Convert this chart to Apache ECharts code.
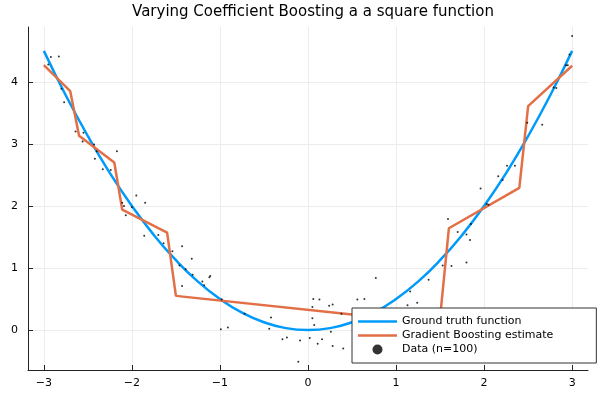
<!DOCTYPE html>
<html>
<head>
<meta charset="utf-8">
<script src="https://cdn.jsdelivr.net/npm/echarts@6/dist/echarts.min.js"></script>
<style>
  html, body { margin: 0; padding: 0; background: #fff; }
  #chart { width: 600px; height: 400px; }
</style>
</head>
<body>
<div id="chart"></div>
<script>
// axis ticks
const xTicks = [-3, -2, -1, 0, 1, 2, 3];
const yTicks = [0, 1, 2, 3, 4];

// ground truth curve
const truthX = [-3, -2.75, -2.5, -2.25, -2, -1.75, -1.5, -1.25, -1, -0.75, -0.5, -0.25, 0,
                0.25, 0.5, 0.75, 1, 1.25, 1.5, 1.75, 2, 2.25, 2.5, 2.75, 3];
const truthY = [4.5, 3.78, 3.125, 2.53, 2, 1.53, 1.125, 0.78, 0.5, 0.28, 0.125, 0.03, 0,
                0.03, 0.125, 0.28, 0.5, 0.78, 1.125, 1.53, 2, 2.53, 3.125, 3.78, 4.5];

// gradient boosting estimate (piecewise linear)
const gbX = [-3, -2.7, -2.6, -2.2, -2.11, -1.6, -1.5, 0.5, 1.5, 1.6, 2.4, 2.5, 3];
const gbY = [4.27, 3.85, 3.13, 2.7, 1.94, 1.57, 0.55, 0.25, 0.2, 1.64, 2.29, 3.61, 4.26];

// noisy samples
const dataX = [-2.92, -2.83, -2.95, -2.80, -2.77, -2.64, -2.55, -2.56, -2.43, -2.40,
               -2.17, -2.42, -2.33, -2.24, -1.95, -1.85, -2.11, -2.09, -2.07, -1.86,
               -1.70, -1.64, -1.43, -1.54, -1.32, -1.46, -1.39, -1.31, -1.20, -1.18,
               -1.12, -1.11, -1.43, -0.98, -0.42, -0.91, -0.99, -0.44, 0.06, 0.13,
               0.05, 0.24, 0.28, 0.56, 0.64, 0.38, 0.05, 0.07, 0.26, -0.29,
               -0.24, -0.09, 0.02, 0.11, 0.16, 0.28, 0.40, -0.11, 1.70, 1.80,
               1.84, 1.85, 1.53, 1.63, 1.80, 0.77, 1.37, 1.16, 1.24, 1.13,
               2.49, 2.66, 2.26, 2.35, 2.16, 1.96, 2.05, 2.03, 1.59, 3.00,
               2.97, 2.93, 2.95, 2.79, 2.82, 0.52, 0.58, 0.63, 0.70, 0.74,
               0.81, 0.88, 0.93, 0.99, 1.05, 0.67, 0.85, -2.00, 2.21, -0.72];
const dataY = [4.40, 4.41, 4.28, 3.89, 3.67, 3.20, 3.18, 3.04, 2.99, 2.88,
               2.88, 2.76, 2.59, 2.58, 2.17, 2.05, 2.05, 2.00, 1.85, 1.52,
               1.53, 1.40, 1.35, 1.27, 1.15, 1.04, 0.98, 0.89, 0.78, 0.72,
               0.85, 0.87, 0.71, 0.49, 0.20, 0.04, 0.01, 0.02, 0.50, 0.49,
               0.37, 0.39, 0.41, 0.49, 0.50, 0.26, 0.19, 0.08, -0.03, -0.15,
               -0.12, -0.17, -0.13, -0.22, -0.15, -0.26, -0.30, -0.51, 1.58, 1.54,
               1.45, 1.71, 1.04, 1.03, 1.09, 0.84, 0.81, 0.62, 0.44, 0.40,
               3.34, 3.31, 2.65, 2.65, 2.48, 2.28, 2.02, 2.03, 1.79, 4.74,
               4.44, 4.27, 4.27, 3.91, 3.90, 0.05, 0.30, -0.12, 0.18, 0.33,
               0.02, 0.28, 0.12, 0.31, 0.25, 0.22, -0.05, 1.98, 2.42, 0.26];

const zip = (xs, ys) => xs.map((x, i) => [x, ys[i]]);

const chart = echarts.init(document.getElementById('chart'));
const font = 'DejaVu Sans';
const axisColor = '#222';
const lineIcon = 'path://M0,0H40V2.5H0Z';

const option = {
    animation: false,
    textStyle: { fontFamily: font },
    title: {
        text: 'Varying Coefficient Boosting a a square function',
        left: 308,
        top: 0,
        textAlign: 'center',
        textStyle: { fontSize: 15, fontWeight: 'normal', color: '#000', fontFamily: font }
    },
    grid: { left: 28, right: 12, top: 27, bottom: 30 },
    legend: {
        orient: 'vertical',
        left: 352,
        top: 308,
        z: 10,
        padding: [8, 43, 8, 6],
        itemGap: 3,
        itemWidth: 39,
        itemHeight: 10,
        backgroundColor: '#fff',
        borderColor: '#333',
        borderWidth: 1,
        borderRadius: 0,
        textStyle: { fontSize: 11, color: '#000', fontFamily: font },
        data: [
            { name: 'Ground truth function', icon: lineIcon },
            { name: 'Gradient Boosting estimate', icon: lineIcon },
            { name: 'Data (n=100)', icon: 'circle' }
        ]
    },
    xAxis: {
        type: 'value',
        min: -3.18,
        max: 3.18,
        axisLine: { show: true, onZero: false, lineStyle: { color: axisColor, width: 1 } },
        axisTick: { show: true, inside: true, length: 5, customValues: xTicks,
                    lineStyle: { color: axisColor } },
        axisLabel: { customValues: xTicks, fontSize: 11, color: '#000', margin: 8,
                     formatter: v => String(v).replace('-', '\u2212') },
        splitLine: { show: true, lineStyle: { color: '#ececec', width: 1 } }
    },
    yAxis: {
        type: 'value',
        min: -0.645,
        max: 4.885,
        axisLine: { show: true, onZero: false, lineStyle: { color: axisColor, width: 1 } },
        axisTick: { show: true, inside: true, length: 5, customValues: yTicks,
                    lineStyle: { color: axisColor } },
        axisLabel: { customValues: yTicks, fontSize: 11, color: '#000', margin: 10 },
        splitLine: { show: true, lineStyle: { color: '#ececec', width: 1 } }
    },
    series: [
        {
            name: 'Ground truth function',
            type: 'line',
            data: zip(truthX, truthY),
            smooth: true,
            symbol: 'none',
            color: '#009afa',
            lineStyle: { color: '#009afa', width: 2.5 },
            z: 2
        },
        {
            name: 'Gradient Boosting estimate',
            type: 'line',
            data: zip(gbX, gbY),
            symbol: 'none',
            color: '#e36f47',
            lineStyle: { color: '#e36f47', width: 2.5 },
            z: 2
        },
        {
            name: 'Data (n=100)',
            type: 'scatter',
            data: zip(dataX, dataY),
            symbol: 'circle',
            symbolSize: 2,
            itemStyle: { color: '#000' },
            z: 3
        }
    ]
};

chart.setOption(option);
</script>
</body>
</html>
